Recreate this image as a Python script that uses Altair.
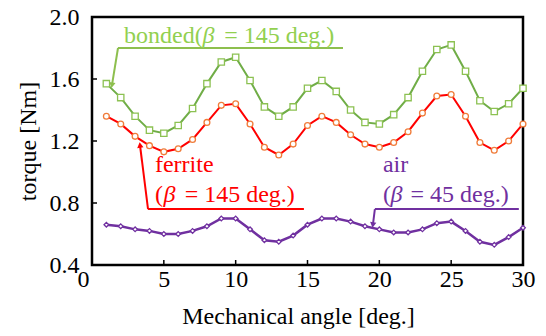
import altair as alt
import pandas as pd

angle = list(range(1, 31))
bonded = [1.57, 1.48, 1.36, 1.27, 1.25, 1.30, 1.41, 1.57, 1.71, 1.74,
          1.59, 1.42, 1.36, 1.42, 1.54, 1.59, 1.52, 1.40, 1.32, 1.31,
          1.37, 1.48, 1.65, 1.79, 1.82, 1.65, 1.46, 1.39, 1.44, 1.54]
ferrite = [1.36, 1.31, 1.23, 1.17, 1.13, 1.15, 1.21, 1.32, 1.43, 1.44,
           1.31, 1.16, 1.11, 1.18, 1.30, 1.36, 1.32, 1.24, 1.18, 1.16,
           1.19, 1.26, 1.38, 1.49, 1.50, 1.36, 1.19, 1.14, 1.20, 1.31]
air = [0.66, 0.65, 0.63, 0.62, 0.60, 0.60, 0.62, 0.65, 0.70, 0.70,
       0.63, 0.56, 0.55, 0.59, 0.66, 0.70, 0.70, 0.68, 0.65, 0.63,
       0.61, 0.61, 0.63, 0.67, 0.68, 0.62, 0.55, 0.53, 0.58, 0.64]

x_ticks = [0, 5, 10, 15, 20, 25, 30]
y_ticks = [0.4, 0.8, 1.2, 1.6, 2.0]

# annotation texts (upright parts)
ann_text = ["bonded(", "= 145 deg.)", "ferrite", "(", "= 145 deg.)", "air", "(", "= 45 deg.)"]
ann_tx = [2.23, 9.2, 4.38, 4.38, 6.45, 20.25, 20.25, 22.17]
ann_ty = [1.832, 1.832, 1.0, 0.806, 0.806, 1.0, 0.806, 0.806]
ann_tc = ["#92D050", "#92D050", "#FF0000", "#FF0000", "#FF0000", "#7030A0", "#7030A0", "#7030A0"]
# italic beta parts
beta_x = [7.7, 4.97, 20.78]
beta_y = [1.832, 0.806, 0.806]
beta_c = ["#92D050", "#FF0000", "#7030A0"]
# leader lines: underline + arrow shaft
lead_x = [1.81, 1.81, 3.90, 3.90, 19.69, 19.69]
lead_x2 = [17.47, 1.39, 14.75, 3.34, 29.71, 19.55]
lead_y = [1.80, 1.80, 0.761, 0.761, 0.761, 0.761]
lead_y2 = [1.80, 1.56, 0.761, 1.174, 0.761, 0.658]
lead_c = ["#8DBF4E", "#8DBF4E", "#FF0000", "#FF0000", "#7030A0", "#7030A0"]
# arrow heads
head_x = [1.39, 3.34, 19.55]
head_y = [1.56, 1.174, 0.658]
head_shape = ["triangle-down", "triangle-up", "triangle-down"]
head_angle = [9, 353, 8]
head_c = ["#8DBF4E", "#FF0000", "#7030A0"]

FONT = "serif"

xs = alt.Scale(domain=[0, 30], nice=False)
ys = alt.Scale(domain=[0.4, 2.0], nice=False)

df = pd.DataFrame({"angle": angle, "bonded": bonded, "ferrite": ferrite, "air": air})

X = alt.X("angle:Q", scale=xs, axis=alt.Axis(
    values=x_ticks, title="Mechanical angle [deg.]", labelPadding=2,
    labelOffset={"expr": "datum.value == 0 ? -9 : 0"},
    titleX=206, titleY=58, titleBaseline="alphabetic", labelFlush=False, labelOverlap=False))


def series(col, line_color, line_w, shape, stroke, size):
    base = alt.Chart(df).encode(
        x=X,
        y=alt.Y(f"{col}:Q", scale=ys, axis=alt.Axis(
            values=y_ticks, format=".1f", title="torque [Nm]", labelPadding=13,
            titleX=-57, titleY=124, titleBaseline="alphabetic", labelOverlap=False)),
    )
    ln = base.mark_line(color=line_color, strokeWidth=line_w)
    pt = base.mark_point(shape=shape, filled=True, fill="white", stroke=stroke,
                         strokeWidth=1.3, size=size, opacity=1)
    return ln + pt


s_bonded = series("bonded", "#70AD47", 2, "square", "#8CC152", 40)
s_ferrite = series("ferrite", "#FF0000", 2, "circle", "#F07C3A", 34)
s_air = series("air", "#7030A0", 2.5, "diamond", "#7030A0", 22)

ytk = alt.Chart(pd.DataFrame({"v": y_ticks[1:-1]})).mark_rule(color="black", strokeWidth=1.5).encode(
    y=alt.Y("v:Q", scale=ys), x=alt.value(0), x2=alt.value(5))
xtk = alt.Chart(pd.DataFrame({"v": x_ticks[1:-1]})).mark_rule(color="black", strokeWidth=1.5).encode(
    x=alt.X("v:Q", scale=xs), y=alt.value(248), y2=alt.value(243))

ann_df = pd.DataFrame({"x": ann_tx, "y": ann_ty, "t": ann_text, "c": ann_tc})
ann = alt.Chart(ann_df).mark_text(font=FONT, fontSize=24, align="left", baseline="alphabetic").encode(
    x=alt.X("x:Q", scale=xs), y=alt.Y("y:Q", scale=ys), text="t:N", color=alt.Color("c:N", scale=None))

beta_df = pd.DataFrame({"x": beta_x, "y": beta_y, "t": ["β"] * 3, "c": beta_c})
beta = alt.Chart(beta_df).mark_text(font=FONT, fontSize=24, fontStyle="italic", align="left",
                                     baseline="alphabetic").encode(
    x=alt.X("x:Q", scale=xs), y=alt.Y("y:Q", scale=ys), text="t:N", color=alt.Color("c:N", scale=None))

lead_df = pd.DataFrame({"x": lead_x, "x2": lead_x2, "y": lead_y, "y2": lead_y2, "c": lead_c})
lead = alt.Chart(lead_df).mark_rule(strokeWidth=2).encode(
    x=alt.X("x:Q", scale=xs), x2="x2:Q", y=alt.Y("y:Q", scale=ys), y2="y2:Q",
    color=alt.Color("c:N", scale=None))

head_df = pd.DataFrame({"x": head_x, "y": head_y, "s": head_shape, "a": head_angle, "c": head_c})
head = alt.Chart(head_df).mark_point(filled=True, size=40, opacity=1).encode(
    x=alt.X("x:Q", scale=xs), y=alt.Y("y:Q", scale=ys),
    shape=alt.Shape("s:N", scale=None), angle=alt.Angle("a:Q", scale=None),
    color=alt.Color("c:N", scale=None))

chart = alt.layer(s_bonded, s_ferrite, s_air, ytk, xtk, lead, head, ann, beta).properties(
    width=431, height=248,
    autosize=alt.AutoSizeParams(type="none"),
    padding={"left": 84, "top": 9, "right": 15, "bottom": 70},
).configure_view(stroke="black", strokeWidth=2.5).configure_axis(
    grid=False, domain=False, ticks=False,
    labelFont=FONT, titleFont=FONT,
    labelFontSize=24, labelColor="black",
    titleFontSize=24, titleFontWeight="normal", titleColor="black",
)

chart.save("out.html", embed_options={"renderer": "svg", "actions": False})
